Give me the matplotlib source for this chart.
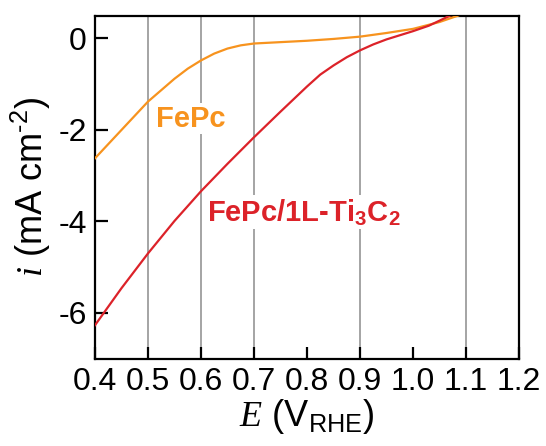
import numpy as np
import matplotlib
matplotlib.use("Agg")
import matplotlib.pyplot as plt

plt.rcParams['font.family'] = ['Liberation Sans', 'DejaVu Sans']
plt.rcParams['mathtext.fontset'] = 'custom'
plt.rcParams['mathtext.it'] = 'Liberation Serif:italic'
plt.rcParams['mathtext.rm'] = 'Liberation Sans'
plt.rcParams['mathtext.default'] = 'regular'

# LSV curves (E in V vs RHE, i in mA cm^-2)
E_fepc = [0.40, 0.45, 0.475, 0.50, 0.525, 0.55, 0.575, 0.60, 0.625, 0.65, 0.675,
          0.70, 0.75, 0.80, 0.85, 0.90, 0.95, 1.00, 1.05, 1.085]
i_fepc = [-2.62, -2.00, -1.69, -1.38, -1.13, -0.88, -0.66, -0.48, -0.33, -0.22, -0.15,
          -0.11, -0.08, -0.05, -0.01, 0.04, 0.12, 0.21, 0.36, 0.50]

E_ti3c2 = [0.40, 0.45, 0.50, 0.55, 0.60, 0.65, 0.70, 0.75, 0.80, 0.825, 0.85,
           0.875, 0.90, 0.925, 0.95, 0.975, 1.00, 1.03, 1.07]
i_ti3c2 = [-6.27, -5.46, -4.70, -3.99, -3.34, -2.74, -2.16, -1.60, -1.05, -0.79, -0.59,
           -0.41, -0.26, -0.13, -0.02, 0.07, 0.16, 0.28, 0.50]

xticks = [0.4, 0.5, 0.6, 0.7, 0.8, 0.9, 1.0, 1.1, 1.2]
yticks = [0, -2, -4, -6]
grid_at = [0.5, 0.6, 0.7, 0.9, 1.1]

c_fepc = '#F7931E'
c_ti3c2 = '#DC2229'

fig = plt.figure(figsize=(5.46, 4.46), dpi=100)
ax = fig.add_axes([0.174, 0.196, 0.7766, 0.769])

for g in grid_at:
    ax.axvline(g, color='#8c8c8c', lw=1.1, zorder=1)

ax.plot(E_fepc, i_fepc, color=c_fepc, lw=1.6, zorder=3)
ax.plot(E_ti3c2, i_ti3c2, color=c_ti3c2, lw=1.6, zorder=3)

box = dict(facecolor='white', edgecolor='none', pad=1)
ax.text(0.516, -1.93, 'FePc', color=c_fepc, fontsize=21, fontweight='bold',
        ha='left', va='baseline', bbox=box, zorder=2)
ax.text(0.6105, -3.99, 'FePc/1L-Ti$_3$C$_2$', color=c_ti3c2, fontsize=21,
        fontweight='bold', ha='left', va='baseline', bbox=box, zorder=2)

ax.set_xlim(0.4, 1.2)
ax.set_ylim(-7, 0.5)
ax.set_xticks(xticks)
ax.set_xticklabels(['%.1f' % t for t in xticks])
ax.set_yticks(yticks)
ax.set_yticklabels(['0', '-2', '-4', '-6'])
ax.tick_params(direction='in', length=9, width=1.6, labelsize=23, pad=6)

for s in ax.spines.values():
    s.set_linewidth(1.6)

ax.set_xlabel(r'$\mathit{E}$ (V$_{RHE}$)', fontsize=26, labelpad=0)
ax.set_ylabel(r'$\mathit{i}$ (mA cm$^{\text{-}2}$)', fontsize=26, labelpad=4)

fig.savefig('out.png', dpi=100)
